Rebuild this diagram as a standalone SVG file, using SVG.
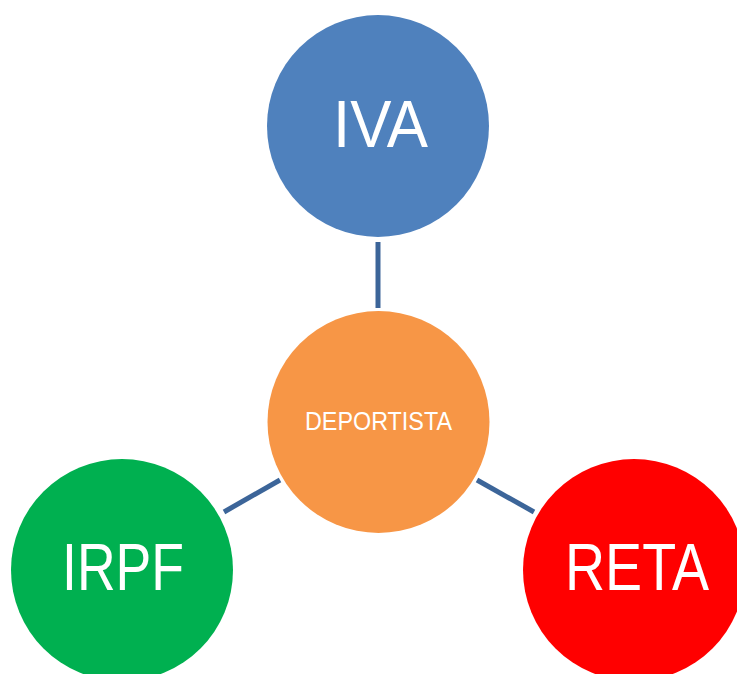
<svg xmlns="http://www.w3.org/2000/svg" width="737" height="674" viewBox="0 0 737 674">
<style>
.lbl{fill:#ffffff;font-family:"Liberation Sans",Arial,sans-serif;text-anchor:middle}
.big{font-size:66px}
.small{font-size:26px}
.conn{stroke:#3C6599;stroke-width:5;fill:none}
</style>
<rect width="737" height="674" fill="#ffffff"/>
<g id="connectors">
<line class="conn" x1="378" y1="242" x2="378" y2="308"/>
<line class="conn" x1="224" y1="512" x2="280" y2="480"/>
<line class="conn" x1="477" y1="480" x2="534" y2="512"/>
</g>
<g id="iva">
<circle cx="378" cy="126" r="111" fill="#4F81BD"/>
<text class="lbl big" x="380.5" y="147" textLength="95" lengthAdjust="spacingAndGlyphs">IVA</text>
</g>
<g id="deportista">
<circle cx="378.5" cy="422" r="111" fill="#F79646"/>
<text class="lbl small" x="378.5" y="430" textLength="147" lengthAdjust="spacingAndGlyphs">DEPORTISTA</text>
</g>
<g id="irpf">
<circle cx="122" cy="570" r="111" fill="#00B050"/>
<text class="lbl big" x="123" y="590" textLength="122" lengthAdjust="spacingAndGlyphs">IRPF</text>
</g>
<g id="reta">
<circle cx="634" cy="570" r="111" fill="#FF0000"/>
<text class="lbl big" x="637" y="590" textLength="144" lengthAdjust="spacingAndGlyphs">RETA</text>
</g>
</svg>
